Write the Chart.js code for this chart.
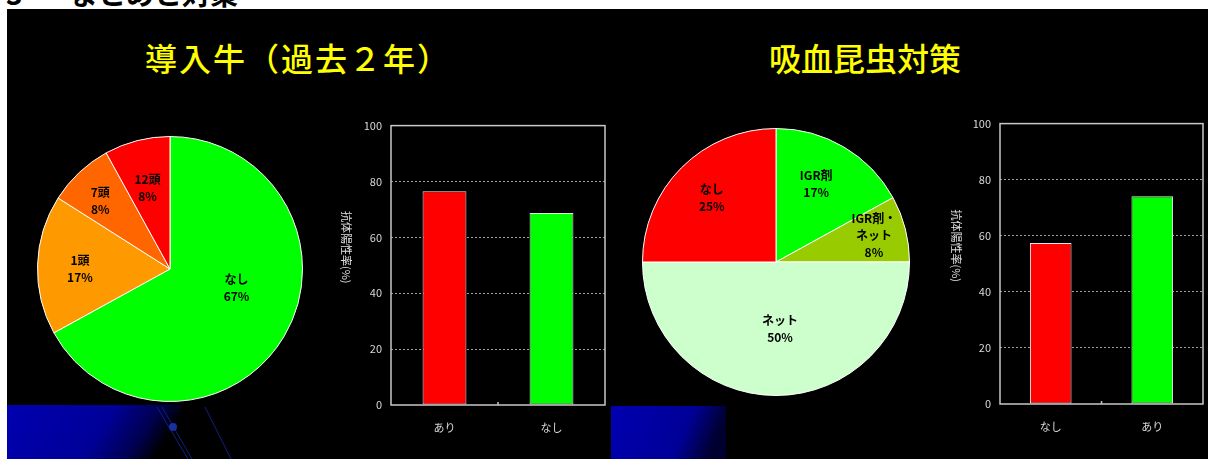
<!DOCTYPE html>
<html>
<head>
<meta charset="utf-8">
<script src="https://cdn.jsdelivr.net/npm/chart.js@4/dist/chart.umd.min.js"></script>
<style>
    body { margin: 0; width: 1208px; height: 459px; background: #fff; position: relative; overflow: hidden; font-family: "Noto Sans CJK JP", sans-serif; }
    #heading { position: absolute; left: 0; top: 0; width: 1208px; height: 9px; overflow: hidden; }
    #heading span { position: absolute; top: -21px; font-size: 28px; line-height: 28px; font-weight: bold; color: #000; }
    #slide { position: absolute; left: 7px; top: 9px; width: 1201px; height: 450px; background: #000; }
    .title { position: absolute; top: 41px; font-size: 32px; line-height: 32px; color: #ffff00; text-align: center; font-weight: 500; }
    .deco { position: absolute; }
    canvas { position: absolute; }
</style>
</head>
<body>
<div id="heading"><span style="left:6px">3</span><span style="left:70px">まとめと対策</span></div>
<div id="slide"></div>

<!-- slide footer decoration -->
<svg class="deco" style="left:7px;top:405px" width="240" height="54">
    <defs>
        <linearGradient id="fadeL" x1="0" y1="0" x2="1" y2="0.2">
            <stop offset="0" stop-color="#0000b0"/>
            <stop offset="0.6" stop-color="#000098"/>
            <stop offset="0.85" stop-color="#000050"/>
            <stop offset="1" stop-color="#000000"/>
        </linearGradient>
    </defs>
    <rect x="0" y="0" width="175" height="54" fill="url(#fadeL)"/>
    <line x1="150" y1="2" x2="181" y2="54" stroke="#102080" stroke-width="1"/>
    <line x1="155" y1="2" x2="185" y2="54" stroke="#102080" stroke-width="1"/>
    <line x1="198" y1="2" x2="224" y2="54" stroke="#102080" stroke-width="1"/>
    <circle cx="166" cy="22" r="4" fill="#1830a0"/>
</svg>
<svg class="deco" style="left:611px;top:406px" width="120" height="53">
    <defs>
        <linearGradient id="fadeR" x1="0" y1="0" x2="1" y2="0.2">
            <stop offset="0" stop-color="#0000b0"/>
            <stop offset="0.7" stop-color="#000098"/>
            <stop offset="1" stop-color="#000030"/>
        </linearGradient>
    </defs>
    <rect x="0" y="0" width="115" height="53" fill="url(#fadeR)"/>
</svg>

<div class="title" style="left:140px;width:316px;letter-spacing:2px">導入牛（過去２年）</div>
<div class="title" style="left:760px;width:210px">吸血昆虫対策</div>

<canvas id="herdPie" width="266" height="266" style="left:37px;top:136px"></canvas>
<canvas id="herdBar" width="280" height="330" style="left:330px;top:110px"></canvas>
<canvas id="insectPie" width="268" height="268" style="left:642px;top:128px"></canvas>
<canvas id="insectBar" width="268" height="330" style="left:940px;top:108px"></canvas>

<script>
// introduced cattle in the last 2 years (share of farms, %)
const herdLabels = [['なし'], ['1頭'], ['7頭'], ['12頭']];
const herdShares = [67, 17, 8, 8];
const herdColors = ['#00ff00', '#ff9900', '#ff6600', '#ff0000'];

// antibody positive rate by introduced cattle
const herdBarLabels = ['あり', 'なし'];
const herdBarValues = [76.5, 68.7];

// blood-sucking insect countermeasures (share of farms, %)
const insectLabels = [['IGR剤'], ['IGR剤・', 'ネット'], ['ネット'], ['なし']];
const insectShares = [17, 8, 50, 25];
const insectColors = ['#00ff00', '#99cc00', '#ccffcc', '#ff0000'];

// antibody positive rate by countermeasure
const insectBarLabels = ['なし', 'あり'];
const insectBarValues = [57.4, 74.1];

const barColors = ['#ff0000', '#00ff00'];
const yTicks = [0, 20, 40, 60, 80, 100];
const yTitle = '抗体陽性率(%)';

Chart.defaults.animation = false;
Chart.defaults.responsive = false;
Chart.defaults.font.family = '"Noto Sans CJK JP", sans-serif';

// draws "name / xx%" inside every slice, nudged by shift[i]
const sliceLabels = {
    id: 'sliceLabels',
    afterDatasetsDraw(chart, args, opts) {
        const ctx = chart.ctx;
        const ds = chart.data.datasets[0];
        const arcs = chart.getDatasetMeta(0).data;
        ctx.save();
        ctx.fillStyle = '#000';
        ctx.font = 'bold 12px "Noto Sans CJK JP"';
        ctx.textAlign = 'center';
        ctx.textBaseline = 'middle';
        arcs.forEach((arc, i) => {
            const mid = (arc.startAngle + arc.endAngle) / 2;
            const r = arc.outerRadius * 0.68;
            const shift = opts.shift[i] || [0, 0];
            const lines = chart.data.labels[i].concat([ds.data[i] + '%']);
            const cx = arc.x + Math.cos(mid) * r + shift[0];
            const cy = arc.y + Math.sin(mid) * r + shift[1];
            const lh = 17;
            lines.forEach((t, k) => {
                ctx.fillText(t, cx, cy + (k - (lines.length - 1) / 2) * lh);
            });
        });
        ctx.restore();
    }
};

// plot frame, centre tick and the top-to-bottom axis title
const barFrame = {
    id: 'barFrame',
    afterDraw(chart, args, opts) {
        const ctx = chart.ctx;
        const a = chart.chartArea;
        ctx.save();
        ctx.strokeStyle = '#c8c8c8';
        ctx.lineWidth = 1.5;
        ctx.strokeRect(a.left, a.top, a.right - a.left, a.bottom - a.top);
        const x = chart.scales.x;
        const midX = (x.getPixelForValue(0) + x.getPixelForValue(1)) / 2;
        ctx.beginPath();
        ctx.moveTo(midX, a.bottom);
        ctx.lineTo(midX, a.bottom - 3);
        ctx.stroke();
        ctx.translate(16, (a.top + a.bottom) / 2 - 18);
        ctx.rotate(Math.PI / 2);
        ctx.fillStyle = '#e0e0e0';
        ctx.font = '11px "Noto Sans CJK JP"';
        ctx.textAlign = 'center';
        ctx.textBaseline = 'middle';
        ctx.fillText(opts.title, 0, 0);
        ctx.restore();
    }
};

function createPie(canvasId, labels, values, colors, shift) {
    const ctx = document.getElementById(canvasId).getContext('2d');
    return new Chart(ctx, {
        type: 'pie',
        data: {
            labels: labels,
            datasets: [{
                data: values,
                backgroundColor: colors,
                borderColor: '#ffffff',
                borderWidth: 1
            }]
        },
        options: {
            layout: { padding: 0 },
            plugins: {
                legend: { display: false },
                tooltip: { enabled: false },
                sliceLabels: { shift: shift }
            }
        },
        plugins: [sliceLabels]
    });
}

function createBar(canvasId, labels, values, axisWidth, axisHeight) {
    const ctx = document.getElementById(canvasId).getContext('2d');
    return new Chart(ctx, {
        type: 'bar',
        data: {
            labels: labels,
            datasets: [{
                data: values,
                backgroundColor: barColors,
                borderColor: '#e8e8e8',
                borderWidth: 1,
                borderSkipped: false,
                barPercentage: 0.41,
                categoryPercentage: 1
            }]
        },
        options: {
            layout: { padding: { top: 14, right: 5, left: 0, bottom: 0 } },
            plugins: {
                legend: { display: false },
                tooltip: { enabled: false },
                barFrame: { title: yTitle }
            },
            scales: {
                y: {
                    min: 0,
                    max: 100,
                    afterBuildTicks: s => { s.ticks = yTicks.map(v => ({ value: v })); },
                    afterFit: s => { s.width = axisWidth; },
                    border: { display: false, dash: [2, 2] },
                    grid: {
                        drawTicks: false,
                        color: c => (c.tick.value === 0 || c.tick.value === 100) ? 'rgba(0,0,0,0)' : '#a0a0a0'
                    },
                    ticks: {
                        padding: 9,
                        color: '#d8d8d8',
                        font: { size: 11 }
                    }
                },
                x: {
                    afterFit: s => { s.height = axisHeight; },
                    border: { display: false },
                    grid: { display: false },
                    ticks: {
                        padding: 8,
                        color: '#d8d8d8',
                        font: { size: 11 }
                    }
                }
            }
        },
        plugins: [barFrame]
    });
}

document.addEventListener('DOMContentLoaded', function() {
    createPie('herdPie', herdLabels, herdShares, herdColors,
        [[-11, -27], [0, 3], [-8, -2], [0, 6]]);
    createBar('herdBar', herdBarLabels, herdBarValues, 61, 35);
    createPie('insectPie', insectLabels, insectShares, insectColors,
        [[-6, 0], [10, -4], [4, -24], [0, 0]]);
    createBar('insectBar', insectBarLabels, insectBarValues, 60, 34);
});
</script>
</body>
</html>
